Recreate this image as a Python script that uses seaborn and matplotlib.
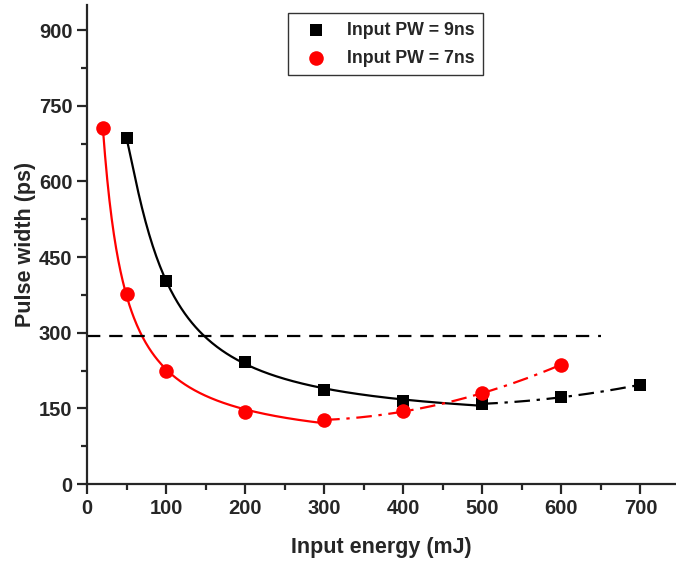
import numpy as np
import pandas as pd
import matplotlib
matplotlib.use("Agg")
import matplotlib.pyplot as plt
from matplotlib.ticker import MultipleLocator
import seaborn as sns

# Measured pulse widths
energy_9ns = [50, 100, 200, 300, 400, 500, 600, 700]
width_9ns = [686, 403, 241, 187, 164, 159, 172, 197]
energy_7ns = [20, 50, 100, 200, 300, 400, 500, 600]
width_7ns = [707, 376, 225, 142, 127, 144, 180, 237]
threshold = 294
threshold_span = [0, 650]
labels = ["Input PW = 9ns", "Input PW = 7ns"]

sns.set_style("ticks")
plt.rcParams["font.family"] = ["Liberation Sans", "DejaVu Sans"]
plt.rcParams["font.weight"] = "bold"

fig = plt.figure(figsize=(6.76, 5.63), dpi=100)
ax = fig.add_axes([87 / 676, 79 / 563, 589 / 676, 479 / 563])

df9 = pd.DataFrame({"E": energy_9ns, "W": width_9ns})
df7 = pd.DataFrame({"E": energy_7ns, "W": width_7ns})


def decay_fit(x, y, x_new, deg):
    # least squares polynomial in 1/x for the decaying branch
    c = np.polyfit(1.0 / np.asarray(x, float), np.asarray(y, float), deg)
    return np.polyval(c, 1.0 / x_new)


def rise_fit(x, y, x_new):
    c = np.polyfit(np.asarray(x, float), np.asarray(y, float), 2)
    return np.polyval(c, x_new)


dashdot = (0, (7, 3, 1.5, 3))

# 9 ns: decay up to 500 mJ, then rising trend
d9 = df9[df9.E <= 500]
xs = np.linspace(d9.E.min(), d9.E.max(), 300)
sns.lineplot(x=xs, y=decay_fit(d9.E, d9.W, xs, 3), color="black", lw=1.6, ax=ax)
r9 = df9[df9.E >= 500]
xs = np.linspace(r9.E.min(), r9.E.max(), 200)
sns.lineplot(x=xs, y=rise_fit(r9.E, r9.W, xs), color="black", lw=1.6,
             ax=ax, linestyle=dashdot)

# 7 ns: decay up to 300 mJ, then rising trend
d7 = df7[df7.E <= 300]
xs = np.linspace(d7.E.min(), d7.E.max(), 300)
sns.lineplot(x=xs, y=decay_fit(d7.E, d7.W, xs, 2), color="red", lw=1.6, ax=ax)
r7 = df7[df7.E >= 300]
xs = np.linspace(r7.E.min(), r7.E.max(), 200)
sns.lineplot(x=xs, y=rise_fit(r7.E, r7.W, xs), color="red", lw=1.6,
             ax=ax, linestyle=dashdot)

# threshold line
ax.plot(threshold_span, [threshold, threshold], color="black", lw=1.6,
        linestyle=(0, (6, 4)))

sns.scatterplot(data=df9, x="E", y="W", marker="s", s=75, color="black",
                edgecolor="black", linewidth=0, ax=ax, label=labels[0], zorder=5)
sns.scatterplot(data=df7, x="E", y="W", marker="o", s=110, color="red",
                edgecolor="red", linewidth=0, ax=ax, label=labels[1], zorder=5)

ax.set_xlim(0, 745)
ax.set_ylim(0, 950)
ax.xaxis.set_major_locator(MultipleLocator(100))
ax.xaxis.set_minor_locator(MultipleLocator(50))
ax.yaxis.set_major_locator(MultipleLocator(150))
ax.yaxis.set_minor_locator(MultipleLocator(75))
for s in ("top", "right"):
    ax.spines[s].set_visible(False)
for s in ("left", "bottom"):
    ax.spines[s].set_linewidth(1.6)
ax.tick_params(which="major", length=7, width=1.6, labelsize=14.5, direction="out")
ax.tick_params(which="minor", length=4, width=1.6, direction="out")
for t in ax.get_xticklabels() + ax.get_yticklabels():
    t.set_fontweight("bold")

ax.set_xlabel("Input energy (mJ)", fontsize=15.5, fontweight="bold", labelpad=14)
ax.set_ylabel("Pulse width (ps)", fontsize=15.5, fontweight="bold", labelpad=2)

leg = ax.legend(loc="upper left", bbox_to_anchor=(288 / 676, 1 - 13 / 563),
                bbox_transform=fig.transFigure, fancybox=False, frameon=True,
                edgecolor="black", handletextpad=0.6, handlelength=2.2,
                borderpad=0.5, labelspacing=0.6, borderaxespad=0,
                prop={"weight": "bold", "size": 12.8})
leg.get_frame().set_linewidth(1.0)

fig.savefig("out.png", dpi=100)
